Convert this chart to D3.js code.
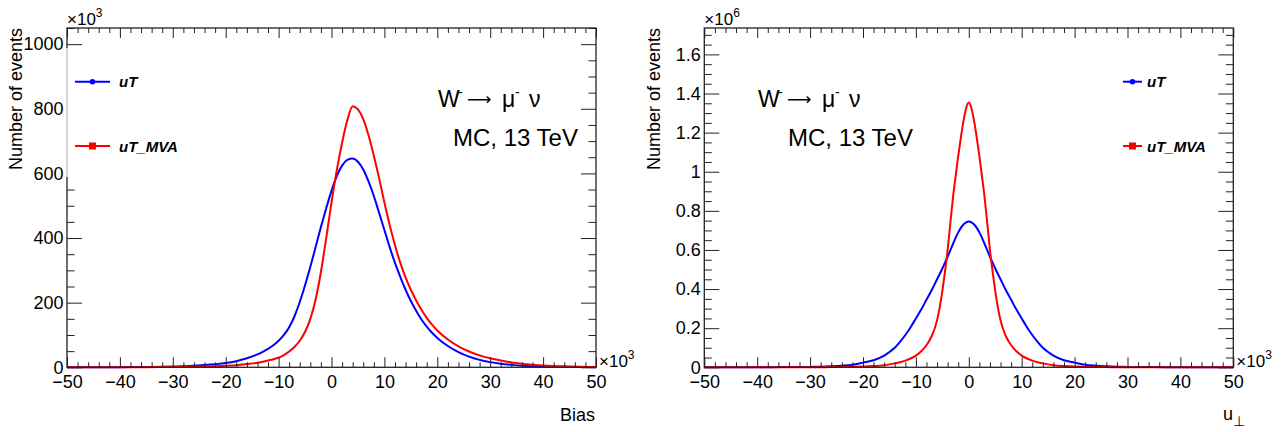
<!DOCTYPE html>
<html><head><meta charset="utf-8">
<script src="https://cdn.jsdelivr.net/npm/d3@7"></script>
<style>
html,body{margin:0;padding:0;background:#fff;}
svg text{font-family:"Liberation Sans",Arial,sans-serif;fill:#000;}
</style></head>
<body><svg id="c" width="1287" height="432"></svg>
<script>
// ---------- data ----------
const seriesNames = ["uT", "uT_MVA"];
const seriesColors = ["#0000ff", "#ff0000"];

// Left panel: Bias (x in units of 10^3), counts in units of 10^3
const biasX = [-50,-45,-40,-35,-30,-28,-26,-24,-22,-20,-18,-16,-14,-13,-12,-11,-10,-9,-8,-7,-6,-5,-4,-3,-2,-1,0,1,2,3,4,5,6,7,8,9,10,11,12,13,14,15,16,17,18,19,20,22,24,26,28,30,32,34,36,38,40,45,50];
const biasUT = [0,0.2,0.5,1,2.5,3.5,5,7,9.5,13,19,28,40,48,57,68,82,100,124,158,202,254,311,372,434,492,546,592,624,642,646,636,612,575,530,478,425,372,323,280,240,205,175,148,126,107,91,66,47,33,23,16,11,7.5,5,3.5,2.5,1,0.4];
const biasMVA = [0,0.1,0.2,0.5,1,1.4,1.8,2.4,3.2,4.5,6.5,10,14,17,21,25,30,38,49,63,82,110,150,210,295,400,510,610,695,765,808,798,768,718,655,585,510,440,378,324,278,240,207,178,153,132,114,86,65,49,37,28,21,15,11,8,5.5,2.5,1];

// Right panel: u_perp (x in units of 10^3), counts in units of 10^6
const uperpX = [-50,-45,-40,-35,-30,-28,-26,-24,-22,-20,-18,-16,-15,-14,-13,-12,-11,-10,-9,-8,-7,-6,-5,-4.5,-4,-3.5,-3,-2.5,-2,-1.5,-1,-0.5,0,0.5,1,1.5,2,2.5,3,3.5,4,4.5,5,6,7,8,9,10,11,12,13,14,15,16,18,20,22,24,26,28,30,35,40,45,50];
const uperpUT = [0.0001,0.0002,0.0004,0.001,0.002,0.003,0.005,0.008,0.013,0.024,0.036,0.06,0.078,0.10,0.13,0.165,0.205,0.25,0.295,0.345,0.395,0.45,0.505,0.535,0.565,0.598,0.63,0.662,0.69,0.713,0.73,0.741,0.745,0.741,0.73,0.713,0.69,0.662,0.63,0.598,0.565,0.535,0.505,0.45,0.395,0.345,0.295,0.25,0.205,0.165,0.13,0.10,0.078,0.06,0.036,0.024,0.013,0.008,0.005,0.003,0.002,0.001,0.0004,0.0002,0.0001];
const uperpMVA = [0,0,0.0001,0.0002,0.0005,0.0007,0.001,0.0015,0.0025,0.004,0.0065,0.011,0.015,0.02,0.026,0.034,0.045,0.06,0.082,0.113,0.16,0.24,0.39,0.49,0.60,0.735,0.865,0.975,1.08,1.175,1.26,1.325,1.354,1.325,1.26,1.175,1.08,0.975,0.865,0.735,0.60,0.49,0.39,0.24,0.16,0.113,0.082,0.06,0.045,0.034,0.026,0.02,0.015,0.011,0.0065,0.004,0.0025,0.0015,0.001,0.0007,0.0005,0.0002,0.0001,0,0];

// tick labels
const xMajor = [-50,-40,-30,-20,-10,0,10,20,30,40,50];
const yMajorL = [0,200,400,600,800,1000];
const yMajorR = [0,0.2,0.4,0.6,0.8,1,1.2,1.4,1.6];
const yLabelsR = ["0","0.2","0.4","0.6","0.8","1","1.2","1.4","1.6"];

// ---------- drawing ----------
const svg = d3.select("#c");
const FONT = '"Liberation Sans",Arial,sans-serif';
const xMinor = d3.range(-50, 50.001, 2).filter(v => Math.abs(v % 10) > 1e-9);

function panel(opt) {
  const g = svg.append("g");
  const x = d3.scaleLinear().domain([-50, 50]).range([opt.x0, opt.x1]);
  const y = d3.scaleLinear().domain([0, opt.ymax]).range([opt.yb, opt.yt]);
  const yMinor = d3.range(0, opt.ymax + 1e-9, opt.yMinorStep)
    .filter(v => !opt.yMajor.some(m => Math.abs(m - v) < 1e-9));

  const fmtX = d => d < 0 ? "\u2212" + Math.abs(d) : String(d);

  // curves
  const line = d3.line().x(d => x(d[0])).y(d => y(d[1])).curve(d3.curveMonotoneX);
  opt.series.forEach((s, i) => {
    g.append("path").datum(opt.xs.map((v, k) => [v, s[k]]))
      .attr("d", line).attr("fill", "none")
      .attr("stroke", seriesColors[i]).attr("stroke-width", 2);
  });

  const axStyle = sel => {
    sel.select(".domain").remove();
    sel.selectAll("line").attr("stroke", "#222");
    sel.selectAll("text").style("font-family", FONT).style("font-size", "18px").attr("fill", "#000");
  };
  // bottom
  g.append("g").attr("transform", `translate(0,${opt.yb})`)
    .call(d3.axisBottom(x).tickValues(xMajor).tickFormat(fmtX).tickSizeInner(-10).tickSizeOuter(0).tickPadding(7.5)).call(axStyle);
  g.append("g").attr("transform", `translate(0,${opt.yb})`)
    .call(d3.axisBottom(x).tickValues(xMinor).tickFormat("").tickSizeInner(-5).tickSizeOuter(0)).call(axStyle);
  // top
  g.append("g").attr("transform", `translate(0,${opt.yt})`)
    .call(d3.axisTop(x).tickValues(xMajor).tickFormat("").tickSizeInner(-10).tickSizeOuter(0)).call(axStyle);
  g.append("g").attr("transform", `translate(0,${opt.yt})`)
    .call(d3.axisTop(x).tickValues(xMinor).tickFormat("").tickSizeInner(-5).tickSizeOuter(0)).call(axStyle);
  // left
  g.append("g").attr("transform", `translate(${opt.x0},0)`)
    .call(d3.axisLeft(y).tickValues(opt.yMajor).tickFormat((d, i) => opt.yLabels[i]).tickSizeInner(-15).tickSizeOuter(0).tickPadding(3.5)).call(axStyle);
  g.append("g").attr("transform", `translate(${opt.x0},0)`)
    .call(d3.axisLeft(y).tickValues(yMinor).tickFormat("").tickSizeInner(-7.5).tickSizeOuter(0)).call(axStyle);
  // right
  g.append("g").attr("transform", `translate(${opt.x1},0)`)
    .call(d3.axisRight(y).tickValues(opt.yMajor).tickFormat("").tickSizeInner(-15).tickSizeOuter(0)).call(axStyle);
  g.append("g").attr("transform", `translate(${opt.x1},0)`)
    .call(d3.axisRight(y).tickValues(yMinor).tickFormat("").tickSizeInner(-7.5).tickSizeOuter(0)).call(axStyle);

  // frame
  g.append("rect").attr("x", opt.x0).attr("y", opt.yt)
    .attr("width", opt.x1 - opt.x0).attr("height", opt.yb - opt.yt)
    .attr("fill", "none").attr("stroke", "#222").attr("stroke-width", 1.3);

  // legend
  const lg = g.append("g");
  if (opt.legendBox) {
    lg.append("rect").attr("x", opt.legendBox[0]).attr("y", opt.legendBox[1])
      .attr("width", opt.legendBox[2]).attr("height", opt.legendBox[3]).attr("fill", "#fff");
    lg.append("line").attr("x1", opt.x0).attr("x2", opt.x0)
      .attr("y1", opt.legendBox[1]).attr("y2", opt.legendBox[1] + opt.legendBox[3])
      .attr("stroke", "#aaa").attr("stroke-width", 1);
  }
  seriesNames.forEach((nm, i) => {
    const yy = opt.legY[i];
    lg.append("line").attr("x1", opt.legX[0]).attr("x2", opt.legX[1]).attr("y1", yy).attr("y2", yy)
      .attr("stroke", seriesColors[i]).attr("stroke-width", 2);
    const mx = (opt.legX[0] + opt.legX[1]) / 2;
    if (i === 0) lg.append("circle").attr("cx", mx).attr("cy", yy).attr("r", 2.8).attr("fill", seriesColors[i]);
    else lg.append("rect").attr("x", mx - 3.5).attr("y", yy - 3.5).attr("width", 7).attr("height", 7).attr("fill", seriesColors[i]);
    lg.append("text").attr("x", opt.legText).attr("y", yy + 5.5)
      .style("font-size", "15px").style("font-weight", "bold").style("font-style", "italic").text(nm);
  });

  // process text
  const a = opt.procX;
  const t1 = g.append("text").attr("y", 107).style("font-size", "23px");
  t1.append("tspan").attr("x", a).text("W");
  t1.append("tspan").attr("x", a + 20).attr("dy", -10).style("font-size", "14px").text("-");
  t1.append("tspan").attr("x", a + 64).attr("dy", 10).text("\u03bc");
  t1.append("tspan").attr("x", a + 77).attr("dy", -10).style("font-size", "14px").text("-");
  t1.append("tspan").attr("x", a + 91).attr("dy", 10).text("\u03bd");
  g.append("text").attr("x", a + 29).attr("y", 105)
    .style("font-family", '"DejaVu Sans",sans-serif').style("font-size", "17px").text("\u27f6");
  g.append("text").attr("x", opt.mcX).attr("y", 146).style("font-size", "24px").text("MC, 13 TeV");

  // y title
  g.append("text").attr("transform", `translate(${opt.ytitleX},${opt.yt}) rotate(-90)`)
    .attr("text-anchor", "end").style("font-size", "18px").text("Number of events");
  // exponents
  const e1 = g.append("text").attr("x", opt.x0).attr("y", 25).style("font-size", "17px");
  e1.append("tspan").text("\u00d710");
  e1.append("tspan").attr("dy", -8).style("font-size", "12px").text(opt.yExp);
  const e2 = g.append("text").attr("x", opt.x1 + 3).attr("y", 367).style("font-size", "17px");
  e2.append("tspan").text("\u00d710");
  e2.append("tspan").attr("dy", -8).style("font-size", "12px").text("3");
  return g;
}

const gl = panel({
  x0: 67, x1: 596, yb: 367.3, yt: 28, ymax: 1050,
  yMajor: yMajorL, yLabels: yMajorL.map(String), yMinorStep: 50, yExp: "3",
  xs: biasX, series: [biasUT, biasMVA],
  legendBox: [66, 48, 140, 129], legX: [75, 110], legY: [81.7, 146], legText: 119,
  procX: 438, mcX: 453, ytitleX: 22
});
gl.append("text").attr("x", 595).attr("y", 421).attr("text-anchor", "end").style("font-size", "18px").text("Bias");

const gr = panel({
  x0: 704.3, x1: 1233.3, yb: 367.3, yt: 28, ymax: 1.735,
  yMajor: yMajorR, yLabels: yLabelsR, yMinorStep: 0.05, yExp: "6",
  xs: uperpX, series: [uperpUT, uperpMVA],
  legendBox: null, legX: [1123, 1142], legY: [81.7, 146], legText: 1147,
  procX: 758, mcX: 788, ytitleX: 660
});
const ut = gr.append("text").attr("x", 1223).attr("y", 420).style("font-size", "18px");
ut.append("tspan").text("u");
ut.append("tspan").attr("dy", 6).style("font-size", "14px").text("\u22a5");
</script>
</body></html>
